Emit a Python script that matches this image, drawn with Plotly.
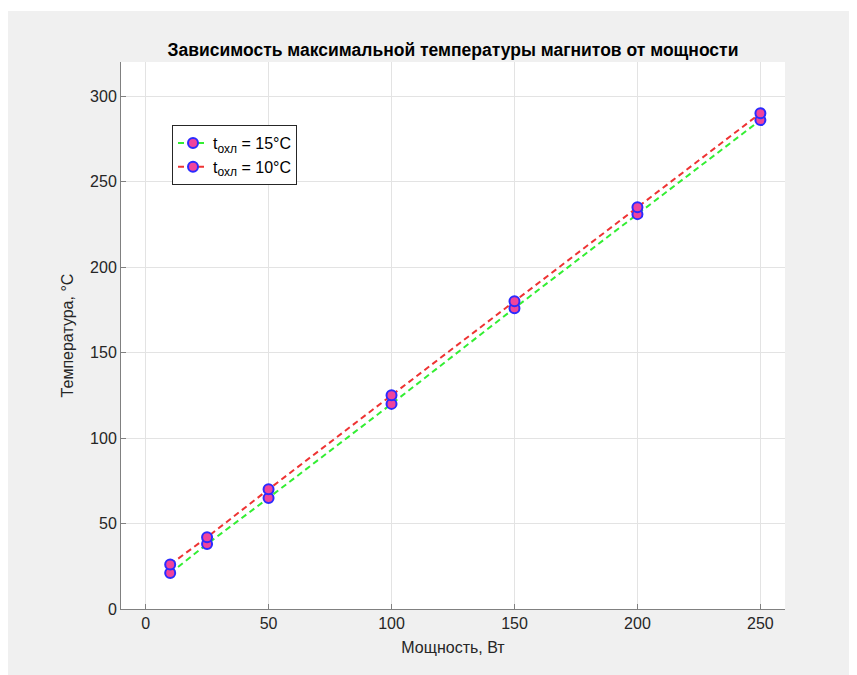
import plotly.graph_objects as go

power = [10, 25, 50, 100, 150, 200, 250]
temp_15 = [21, 38, 65, 120, 176, 231, 286]
temp_10 = [26, 42, 70, 125, 180, 235, 290]
x_ticks = [0, 50, 100, 150, 200, 250]
y_ticks = [0, 50, 100, 150, 200, 250, 300]

title = "Зависимость максимальной температуры магнитов от мощности"
x_label = "Мощность, Вт"
y_label = "Температура, °C"
legend_15 = "t<sub><span style='font-size:12px'>охл</span></sub> = 15°C"
legend_10 = "t<sub><span style='font-size:12px'>охл</span></sub> = 10°C"

OFF = 8  # page body margin
W, H = 857 - OFF, 675 - OFF
L, R, T, B = 121 - OFF, 785 - OFF, 62 - OFF, 609 - OFF

marker = dict(size=10, color="#f0449c", line=dict(color="#2b2bff", width=2))

fig = go.Figure()
fig.add_trace(go.Scatter(
    x=power, y=temp_15, mode="lines+markers",
    name=legend_15,
    line=dict(color="#33ee33", width=2, dash="6px,4px"),
    marker=marker,
))
fig.add_trace(go.Scatter(
    x=power, y=temp_10, mode="lines+markers",
    name=legend_10,
    line=dict(color="#ee3333", width=2, dash="6px,4px"),
    marker=marker,
))

pw, ph = R - L, B - T
def px(x):
    return (x - OFF - L) / pw
def py(y):
    return (B - (y - OFF)) / ph

fig.add_shape(type="rect", xref="paper", yref="paper",
              x0=px(OFF), x1=px(W + OFF), y0=py(OFF), y1=py(11),
              fillcolor="white", line=dict(width=0), layer="above")

axis_common = dict(
    showgrid=True, gridcolor="#e3e3e3", gridwidth=1,
    showline=True, linecolor="#808080", linewidth=1,
    ticks="inside", ticklen=5, tickcolor="#808080",
    tickfont=dict(family="Arial", size=16, color="#262626"),
    zeroline=False, mirror=False,
)

fig.update_layout(
    width=W, height=H,
    margin=dict(l=L, r=W - R, t=T, b=H - B),
    paper_bgcolor="#f0f0f0", plot_bgcolor="white",
    title=dict(text="<b>" + title + "</b>", x=0.5 * (L + R) / W, xanchor="center",
               y=1 - (50 - OFF) / H, yanchor="middle",
               font=dict(family="Arial", size=17.5, color="#000000")),
    xaxis=dict(range=[-10, 260], tickvals=x_ticks,
               title=dict(text=x_label, font=dict(family="Arial", size=16, color="#262626"), standoff=10),
               **axis_common),
    yaxis=dict(range=[0, 320], tickvals=y_ticks,
               title=dict(text=y_label, font=dict(family="Arial", size=16, color="#262626"), standoff=12),
               **axis_common),
    legend=dict(x=px(172), y=py(125), xanchor="left", yanchor="top",
                bgcolor="white", bordercolor="#262626", borderwidth=1,
                font=dict(family="Arial", size=16, color="#000000"),
                itemwidth=30, tracegroupgap=0),
    showlegend=True,
)

fig.write_html("out.html")
